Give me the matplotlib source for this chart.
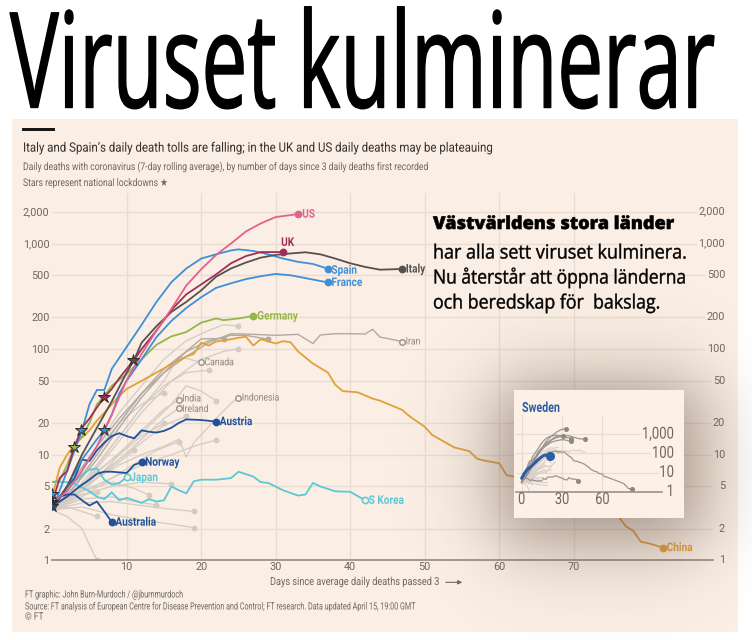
import matplotlib

matplotlib.use("Agg")
import matplotlib.pyplot as plt
import matplotlib.ticker
import numpy as np
from matplotlib.patches import Rectangle
from matplotlib.patheffects import AbstractPathEffect
from matplotlib.textpath import TextPath
from matplotlib.transforms import Affine2D, blended_transform_factory

W, H = 752, 640
BG = "#FBEEE4"
GRID = "#EADCD1"
TXT = "#6E6863"

# ---- data: 7-day avg daily deaths by days since 3 daily deaths ----
days_us = [0, 2, 4, 6, 8, 10, 12, 14, 16, 18, 20, 22, 24, 26, 28, 30, 33]
deaths_us = [3.5, 4.5, 7, 12, 24, 51, 90, 150, 240, 400, 570, 780, 1000, 1300, 1550, 1780, 1900]

days_uk = [0, 1, 2, 3, 4, 5, 6, 7, 8, 9, 10, 11, 12, 14, 16, 18, 20, 22, 24, 26, 28, 31]
deaths_uk = [3.5, 6, 7, 12, 18, 22, 28, 35, 42, 53, 65, 79, 100, 150, 235, 330, 410, 510, 650, 760, 830, 830]

days_it = [0, 2, 4, 6, 8, 10, 11, 12, 14, 16, 18, 20, 22, 24, 26, 28, 30, 32, 34, 36, 38, 40, 42, 44, 47]
deaths_it = [3, 5, 10, 18, 32, 60, 79, 115, 165, 225, 280, 360, 485, 580, 660, 735, 780, 805, 826, 790, 720, 650, 600, 565, 574]

days_es = [0, 2, 3, 4, 5, 6, 7, 8, 10, 12, 14, 16, 18, 20, 22, 24, 25, 27, 29, 31, 33, 35, 37]
deaths_es = [3, 7, 11, 17, 30, 41, 41, 65, 105, 170, 280, 430, 580, 720, 790, 860, 880, 850, 790, 720, 670, 640, 577]

days_fr = [0, 2, 4, 6, 7, 8, 9, 10, 12, 14, 16, 18, 20, 22, 24, 26, 28, 30, 32, 34, 37]
deaths_fr = [3, 5, 9, 14, 17, 24, 38, 50, 80, 130, 185, 245, 310, 380, 420, 460, 490, 515, 500, 470, 428]

days_de = [0, 1, 2, 3, 4, 5, 6, 7, 8, 10, 12, 14, 16, 18, 20, 22, 23, 25, 27]
deaths_de = [5.5, 5.7, 8, 12, 15, 20, 30, 36, 45, 58, 80, 110, 132, 145, 178, 195, 188, 195, 206]

days_at = [0, 1, 2, 3, 4, 5, 6, 7, 8, 9, 10, 11, 12, 13, 14, 15, 16, 17, 18, 20, 22]
deaths_at = [3.4, 4, 5, 6, 9, 8.7, 11, 13, 15, 16, 15, 14.3, 17, 16.5, 16.2, 16.8, 18, 20, 21.6, 21.3, 20.6]

days_no = [0, 1, 2, 3, 4, 5, 6, 7, 8, 9, 10, 11, 12]
deaths_no = [3.3, 3.6, 4, 4.6, 5.2, 5.8, 6.6, 6.9, 6.9, 6.8, 6.7, 8.0, 8.5]

days_jp = [0, 1, 2, 3, 4, 5, 6, 7, 8, 9, 10]
deaths_jp = [3.2, 4, 4.8, 5.5, 6.5, 7.2, 7.4, 5.8, 5.2, 5.4, 6.1]

days_kr = [0, 2, 3, 4, 5, 6, 7, 8, 9, 10, 11, 12, 13, 14, 15, 16, 17, 18, 19, 20, 22,
           24, 25, 27, 28, 29, 31, 33, 34, 35, 36, 38, 40, 42]
deaths_kr = [5.5, 5.5, 5.3, 4.9, 4.5, 4.0, 3.8, 4.4, 3.7, 3.9, 3.7, 3.5, 3.8, 3.6, 3.7, 5.0, 4.6,
             4.3, 5.6, 5.8, 5.8, 6.0, 6.9, 6.2, 5.5, 5.4, 4.6, 4.1, 4.2, 5.4, 5.0, 4.5, 4.45, 3.7]

days_au = [0, 1, 2, 3, 4, 5, 6, 7, 8]
deaths_au = [3.4, 4.0, 4.2, 4.2, 3.7, 3.3, 3.6, 2.9, 2.3]

days_cn = [0, 1, 2, 3, 4, 5, 6, 7, 8, 9, 10, 12, 14, 16, 18, 19, 20, 21, 22, 24, 25, 26, 27,
           28, 30, 31, 32, 33, 35, 37, 38, 39, 41, 43, 44, 47, 48, 50, 51, 53, 54, 56, 57,
           58, 60, 61, 62, 65, 68, 71, 74, 76, 77, 78, 79, 80, 82]
deaths_cn = [4, 7.5, 10, 12.5, 14.5, 17, 21, 25, 30, 36, 42, 50, 60, 72, 85, 90, 115, 108, 118,
             124, 128, 131, 108, 124, 113, 119, 116, 95, 73, 60, 46, 40, 39, 34, 32.5, 26.5, 23,
             18.4, 15.4, 12.8, 11.7, 10.8, 9.2, 8.8, 8.3, 6.4, 6.2, 5.2, 4.3, 3.6, 3.0, 2.6, 2.1,
             1.9, 1.5, 1.45, 1.32]

days_ir = [0, 3, 6, 9, 12, 15, 18, 21, 24, 27, 30, 33, 35, 36, 38, 40, 42, 43, 44, 47]
deaths_ir = [3, 6, 12, 22, 38, 60, 85, 115, 140, 138, 135, 138, 113, 136, 140, 140, 139, 154, 130, 118]

days_ca = [0, 3, 6, 9, 12, 15, 17, 20]
deaths_ca = [3, 4.5, 8, 15, 28, 50, 85, 75]

days_in = [0, 3, 6, 9, 12, 15, 17]
deaths_in = [3, 4, 6, 10, 17, 27, 33]

days_ie = [0, 3, 6, 9, 12, 15, 17]
deaths_ie = [3, 4.5, 6, 9, 14, 22, 27.5]

days_id = [0, 3, 6, 9, 12, 15, 17, 18, 19, 20, 22, 24, 25]
deaths_id = [3, 4, 6, 8, 10, 12, 14, 9.5, 13, 15.4, 22, 30.6, 34.7]

days_se = [0, 2, 4, 6, 8, 10, 12, 14, 16, 18, 21]
deaths_se = [5, 9, 14, 18, 24, 33, 45, 60, 75, 82, 72]

# unlabelled countries (grey)
days_g1 = [0, 3, 6, 9, 12, 15, 18, 21, 23, 25]
deaths_g1 = [3, 6, 12, 25, 45, 80, 120, 150, 170, 165]
days_g2 = [0, 3, 6, 9, 12, 15, 18, 21, 24, 26, 29]
deaths_g2 = [3, 5, 10, 20, 38, 65, 95, 120, 135, 135, 124]
days_g3 = [0, 3, 6, 9, 12, 15, 18, 20, 23]
deaths_g3 = [3, 5, 9, 18, 35, 60, 95, 125, 126]
days_g4 = [0, 4, 8, 12, 16, 20, 23, 25]
deaths_g4 = [3, 5, 11, 25, 50, 80, 95, 101]
days_g5 = [0, 4, 8, 12, 15, 18, 21]
deaths_g5 = [3, 5, 12, 28, 45, 60, 63]
days_g6 = [0, 3, 6, 9, 12, 15]
deaths_g6 = [3, 6, 11, 20, 30, 38.7]
days_g7 = [0, 4, 8, 12, 16, 18, 20, 22]
deaths_g7 = [3, 5, 9, 16, 30, 45, 40, 32.5]
days_g8 = [0, 4, 8, 12, 15, 18]
deaths_g8 = [3, 5, 8, 13, 19, 23.2]
days_g9 = [0, 3, 6, 9, 12, 15]
deaths_g9 = [3, 4.5, 7, 10, 15, 19.8]
days_g10 = [0, 4, 8, 12, 16, 19, 22]
deaths_g10 = [3, 4.5, 6, 8, 10, 12, 13.8]
days_g11 = [0, 4, 8, 12, 14, 17]
deaths_g11 = [3, 4, 6, 9, 11, 13.3]
days_g12 = [0, 3, 6, 9, 11]
deaths_g12 = [3, 4.2, 6, 8.5, 11]
days_g13 = [0, 4, 8, 12, 15, 19]
deaths_g13 = [3, 3.5, 3.6, 3.3, 3.1, 2.9]
days_g14 = [0, 4, 8, 12, 16, 19]
deaths_g14 = [3, 3.2, 2.7, 2.4, 2.2, 2.04]
days_g15 = [0, 4, 8, 11, 14]
deaths_g15 = [3, 3.8, 4.0, 3.6, 3.34]
days_g16 = [0, 4, 8, 11, 13]
deaths_g16 = [3, 4.5, 5.5, 4.8, 4.15]
days_g17 = [0, 4, 8, 12, 16]
deaths_g17 = [3, 4.2, 5.0, 5.5, 5.3]
days_g18 = [0, 2, 4, 6]
deaths_g18 = [3, 3.2, 2.9, 2.6]
days_g19 = [0, 2, 4, 5, 6]
deaths_g19 = [3, 2.6, 2, 1.4, 1]
days_g20 = [0, 2, 4, 6]
deaths_g20 = [3, 3.8, 4.2, 4.4]

# national lockdowns
lockdown_days = [10.9, 7, 3.85, 6.9, 2.86, 0, 0, 0]
lockdown_deaths = [79, 35, 17, 17, 11.9, 4.2, 3.6, 3.3]

YTICKS = [1, 2, 5, 10, 20, 50, 100, 200, 500, 1000, 2000]
XTICKS = [10, 20, 30, 40, 50, 60, 70]

plt.rcParams["font.family"] = ["Roboto", "DejaVu Sans"]


class Stretch(AbstractPathEffect):
    """Stretch glyphs vertically about y0 (condensed look), optionally embolden."""

    def __init__(self, sy, y0, lw=0.0):
        super().__init__()
        self.sy = sy
        self.y0 = y0
        self.lw = lw

    def draw_path(self, renderer, gc, tpath, affine, rgbFace=None):
        st = Affine2D().translate(0, -self.y0).scale(1, self.sy).translate(0, self.y0)
        gc0 = renderer.new_gc()
        gc0.copy_properties(gc)
        if self.lw and rgbFace is not None:
            gc0.set_linewidth(self.lw)
            gc0.set_foreground(rgbFace, isRGBA=len(rgbFace) == 4)
            gc0.set_joinstyle("round")
        renderer.draw_path(gc0, tpath, affine + st, rgbFace)
        gc0.restore()


to_fit = []


def fx(px):
    return px / W


def fy(py):
    return 1 - py / H


fig = plt.figure(figsize=(W / 100, H / 100), dpi=100)
fig.patch.set_facecolor("white")


def ftext(px, py, s, sx=None, width=None, lw=0.0, **kw):
    t = fig.text(fx(px), fy(py), s, **kw)
    to_fit.append((t, sx, width, lw))
    return t


fig.patches.append(
    Rectangle((fx(12), fy(632)), fx(738) - fx(12), fy(119) - fy(632),
              transform=fig.transFigure, fc=BG, ec="none", zorder=0)
)
fig.patches.append(
    Rectangle((fx(22), fy(131)), fx(55) - fx(22), fy(128) - fy(131),
              transform=fig.transFigure, fc="#1A1817", ec="none", zorder=1)
)

# ---- main chart ----
ax = fig.add_axes([fx(52.2), fy(560.3), fx(713) - fx(52.2), fy(193) - fy(560.3)], zorder=1)
ax.patch.set_alpha(0)
ax.set_yscale("log")
ax.set_xlim(0, 88.7)
ax.set_ylim(1, 3008)
ax.set_yticks(YTICKS)
ax.set_yticklabels([f"{v:,}" for v in YTICKS])
ax.yaxis.set_minor_locator(matplotlib.ticker.NullLocator())
ax.set_xticks(XTICKS)
ax.tick_params(length=0, labelsize=7.8, labelcolor=TXT)
ax.tick_params(axis="y", pad=2)
ax.tick_params(axis="x", pad=1.5)
ax.grid(color=GRID, lw=1)
ax.set_axisbelow(True)
for s in ["top", "right", "left"]:
    ax.spines[s].set_visible(False)
ax.spines["bottom"].set_color("#9A928C")
ax.spines["bottom"].set_linewidth(1.3)

right_tr = blended_transform_factory(fig.transFigure, ax.transData)
for v in YTICKS:
    ax.text(fx(725), v, f"{v:,}", transform=right_tr, ha="right", va="center",
            fontsize=7.8, color=TXT, bbox=dict(fc=BG, ec="none", pad=1))

LIGHT = "#D3CBC4"
MID = "#B1AAA4"
grey_light = [
    (days_g1, deaths_g1), (days_g4, deaths_g4), (days_g5, deaths_g5), (days_g6, deaths_g6),
    (days_g7, deaths_g7), (days_g8, deaths_g8), (days_g9, deaths_g9), (days_g10, deaths_g10),
    (days_g11, deaths_g11), (days_g12, deaths_g12), (days_g13, deaths_g13), (days_g14, deaths_g14),
    (days_g15, deaths_g15), (days_g16, deaths_g16), (days_g17, deaths_g17), (days_g18, deaths_g18),
    (days_g19, deaths_g19), (days_g20, deaths_g20), (days_in, deaths_in), (days_ie, deaths_ie),
    (days_id, deaths_id), (days_ca, deaths_ca),
]
grey_mid = [(days_g2, deaths_g2), (days_g3, deaths_g3), (days_ir, deaths_ir)]

for d, v in grey_light:
    ax.plot(d, v, color=LIGHT, lw=0.9, zorder=2)
    ax.plot(d[-1], v[-1], "o", ms=3.2, color=LIGHT, zorder=2)
for d, v in grey_mid:
    ax.plot(d, v, color=MID, lw=1.0, zorder=2.1)
    ax.plot(d[-1], v[-1], "o", ms=3.2, color=MID, zorder=2.1)

C_US, C_UK, C_IT = "#E4608E", "#9E2F5C", "#56514D"
C_BLUE, C_DE, C_DARK = "#3F8FD8", "#95B648", "#21519B"
C_CYAN, C_CN = "#5BC8D5", "#E3A03A"

main = [
    (days_cn, deaths_cn, C_CN), (days_kr, deaths_kr, C_CYAN), (days_jp, deaths_jp, C_CYAN),
    (days_au, deaths_au, C_DARK), (days_no, deaths_no, C_DARK), (days_at, deaths_at, C_DARK),
    (days_de, deaths_de, C_DE), (days_fr, deaths_fr, C_BLUE), (days_es, deaths_es, C_BLUE),
    (days_it, deaths_it, C_IT), (days_uk, deaths_uk, C_UK), (days_us, deaths_us, C_US),
]
for d, v, c in main:
    ax.plot(d, v, color=c, lw=1.3, zorder=3, solid_joinstyle="round")
    open_dot = c == C_CYAN
    ax.plot(d[-1], v[-1], "o", ms=4.5, color=c, mfc=BG if open_dot else c,
            mew=1.1, zorder=4)

for d, v in [(days_ca, deaths_ca), (days_in, deaths_in), (days_ie, deaths_ie),
             (days_id, deaths_id), (days_ir, deaths_ir)]:
    ax.plot(d[-1], v[-1], "o", ms=4, color="#9A938D", mfc=BG, mew=1, zorder=4)

star_colors = [C_IT, C_UK, C_BLUE, C_BLUE, C_DE, C_BLUE, "#3A3633", C_DARK]
for x, y, c in zip(lockdown_days, lockdown_deaths, star_colors):
    ax.plot(x, y, marker="*", ms=9, mfc=c, mec="#2E2A28", mew=0.7, ls="none", zorder=6)

labels = [
    ("US", days_us, deaths_us, C_US, True, (3, 0), "left"),
    ("UK", days_uk, deaths_uk, C_UK, True, (3.2, 7), "center"),
    ("Italy", days_it, deaths_it, C_IT, True, (2.5, 0), "left"),
    ("Spain", days_es, deaths_es, C_BLUE, True, (2.6, -1), "left"),
    ("France", days_fr, deaths_fr, C_BLUE, True, (2.6, 0), "left"),
    ("Germany", days_de, deaths_de, C_DE, True, (2.8, 0), "left"),
    ("Iran", days_ir, deaths_ir, "#8E8782", False, (2.4, 0), "left"),
    ("Canada", days_ca, deaths_ca, "#8E8782", False, (2.4, 0), "left"),
    ("India", days_in, deaths_in, "#8E8782", False, (2.4, 1), "left"),
    ("Ireland", days_ie, deaths_ie, "#8E8782", False, (2.4, -0.5), "left"),
    ("Indonesia", days_id, deaths_id, "#8E8782", False, (2.4, 0), "left"),
    ("Austria", days_at, deaths_at, C_DARK, True, (2.6, 0), "left"),
    ("Norway", days_no, deaths_no, C_DARK, True, (2.6, 0), "left"),
    ("Japan", days_jp, deaths_jp, C_CYAN, True, (2.6, 0), "left"),
    ("S Korea", days_kr, deaths_kr, C_CYAN, True, (2.6, 0), "left"),
    ("Australia", days_au, deaths_au, C_DARK, True, (2.6, 0), "left"),
    ("China", days_cn, deaths_cn, C_CN, True, (2.6, 0), "left"),
]
for name, d, v, c, bold, off, ha in labels:
    t = ax.annotate(name, (d[-1], v[-1]), xytext=off, textcoords="offset points",
                    ha=ha, va="center", color=c, zorder=7,
                    fontsize=8.6 if bold else 7.4,
                    fontweight="bold" if bold else "normal")
    to_fit.append((t, 0.84, None, 0.0))

# ---- shadow behind inset ----
axs = fig.add_axes([0, 0, 1, 1], zorder=2)
axs.axis("off")
X, Y = np.meshgrid(np.arange(W) + 0.5, np.arange(H) + 0.5)


def soft(t, a, b, s):
    return 0.5 * (np.tanh((t - a) / s) - np.tanh((t - b) / s))


shadow = np.zeros((H, W, 4))
shadow[..., 0], shadow[..., 1], shadow[..., 2] = 0.40, 0.34, 0.29
shadow[..., 3] = 0.62 * soft(X, 498, 702, 44) * soft(Y, 385, 542, 44)
axs.imshow(shadow, extent=(0, W, H, 0), aspect="auto", interpolation="bilinear")
axs.set_xlim(0, W)
axs.set_ylim(H, 0)

# ---- Sweden inset ----
fig.patches.append(
    Rectangle((fx(514), fy(518)), fx(684) - fx(514), fy(390) - fy(518),
              transform=fig.transFigure, fc="#FCF0E7", ec="none", zorder=2.5)
)
axi = fig.add_axes([fx(516.3), fy(491.7), fx(661.7) - fx(516.3), fy(415) - fy(491.7)], zorder=3)
axi.patch.set_alpha(0)
axi.set_yscale("log")
axi.set_xlim(-4, 104)
axi.set_ylim(1, 1e4)
axi.set_xticks([0, 30, 60])
axi.set_yticks([10, 100, 1000])
axi.yaxis.set_minor_locator(matplotlib.ticker.NullLocator())
axi.tick_params(length=0, labelbottom=False, labelleft=False)
axi.grid(color="#E8DBD0", lw=0.9)
axi.set_axisbelow(True)
for s in ["top", "right", "left"]:
    axi.spines[s].set_visible(False)
axi.spines["bottom"].set_color("#9A928C")
axi.spines["bottom"].set_linewidth(1.2)

for d, v in grey_light + grey_mid:
    axi.plot(d, v, color="#D9D1CA", lw=0.8, zorder=2)
for d, v, c in main:
    if c in (C_DE, C_DARK) or d is days_jp:
        axi.plot(d, v, color="#D9D1CA", lw=0.8, zorder=2)
    else:
        axi.plot(d, v, color="#9C958F", lw=0.9, zorder=2.2)
        axi.plot(d[-1], v[-1], "o", ms=2.6, color="#8E8782", zorder=2.3)
axi.plot(days_se, deaths_se, color="#2B5EA7", lw=2.2, zorder=3, solid_capstyle="round")
axi.plot(days_se[-1], deaths_se[-1], "o", ms=5.5, color="#2B5EA7", zorder=3)

inset_tr = blended_transform_factory(fig.transFigure, axi.transData)
for v in [1, 10, 100, 1000]:
    t = axi.text(fx(674), v, f"{v:,}", transform=inset_tr, ha="right", va="center",
                 fontsize=11.8, color=TXT, bbox=dict(fc="#FCF0E7", ec="none", pad=0.5))
    to_fit.append((t, 0.8, None, 0.0))
inset_trx = blended_transform_factory(axi.transData, fig.transFigure)
for d in [0, 30, 60]:
    t = axi.text(d, fy(499.5), str(d), transform=inset_trx, ha="center", va="center",
                 fontsize=11.8, color=TXT)
    to_fit.append((t, 0.78, None, 0.0))
ftext(522, 408, "Sweden", width=37, fontsize=10, fontweight="bold", color="#2B5EA7",
      va="center", zorder=4)

# ---- texts ----
ftext(10, 107.5, "Viruset kulminerar", width=704, lw=1.0, family="Open Sans",
      fontsize=95.5, color="black", va="baseline", zorder=5)
ftext(23, 151.7, "Italy and Spain\u2019s daily death tolls are falling; in the UK and US daily deaths may be plateauing",
      width=468, fontsize=9.4, color="#33302E", va="baseline", zorder=5)
ftext(23, 170, "Daily deaths with coronavirus (7-day rolling average), by number of days since 3 daily deaths first recorded",
      width=404, fontsize=7.6, color=TXT, va="baseline", zorder=5)
ftext(23, 186, "Stars represent national lockdowns \u2605", width=144, fontsize=7.6, color=TXT,
      va="baseline", zorder=5)
ftext(270, 585, "Days since average daily deaths passed 3", width=168, fontsize=8,
      color=TXT, va="baseline", zorder=5)
ax.annotate("", xy=(fx(465), fy(582.3)), xytext=(fx(443), fy(582.3)),
            xycoords="figure fraction", textcoords="figure fraction",
            arrowprops=dict(arrowstyle="-|>", color=TXT, lw=0.8, mutation_scale=6))
ftext(25, 597.5, "FT graphic: John Burn-Murdoch / @jburnmurdoch", width=157, fontsize=7.2,
      color=TXT, va="baseline", zorder=5)
ftext(25, 609.5, "Source: FT analysis of European Centre for Disease Prevention and Control; FT research. Data updated April 15, 19:00 GMT",
      width=390, fontsize=7.2, color=TXT, va="baseline", zorder=5)
ftext(25, 619.5, "\u00a9 FT", sx=0.85, fontsize=7.2, color=TXT, va="baseline", zorder=5)

ftext(433, 229, "V\u00e4stv\u00e4rldens stora l\u00e4nder", width=241, lw=0.4, family="Open Sans",
      fontsize=12.8, fontweight="heavy", color="black", va="baseline", zorder=5)
ftext(433, 258.5, "har alla sett viruset kulminera.", width=251, lw=0.3, family="Open Sans",
      fontsize=14, color="black", va="baseline", zorder=5)
ftext(433, 283.5, "Nu \u00e5terst\u00e5r att \u00f6ppna l\u00e4nderna", width=250, lw=0.3,
      family="Open Sans", fontsize=14, color="black", va="baseline", zorder=5)
ftext(433, 308.5, "och beredskap f\u00f6r  bakslag.", width=225, lw=0.3, family="Open Sans",
      fontsize=14, color="black", va="baseline", zorder=5)

# ---- condensed look: shrink each text to its width, then stretch it back up ----
renderer = fig.canvas.get_renderer()
for t, sx, width, lw in to_fit:
    size = t.get_fontsize()
    if width is not None:
        fp = t.get_fontproperties()
        ink = TextPath((0, 0), t.get_text(), size=size, prop=fp)
        sx = width / (ink.get_extents().width * fig.dpi / 72)
    t.set_fontsize(size * sx)
    if t.get_verticalalignment() == "baseline":
        y0 = t.get_transform().transform(t.get_position())[1]
    else:
        bb = t.get_window_extent(renderer)
        y0 = 0.5 * (bb.y0 + bb.y1)
    t.set_path_effects([Stretch(1 / sx, y0, lw)])

fig.savefig("out.png", dpi=100)
